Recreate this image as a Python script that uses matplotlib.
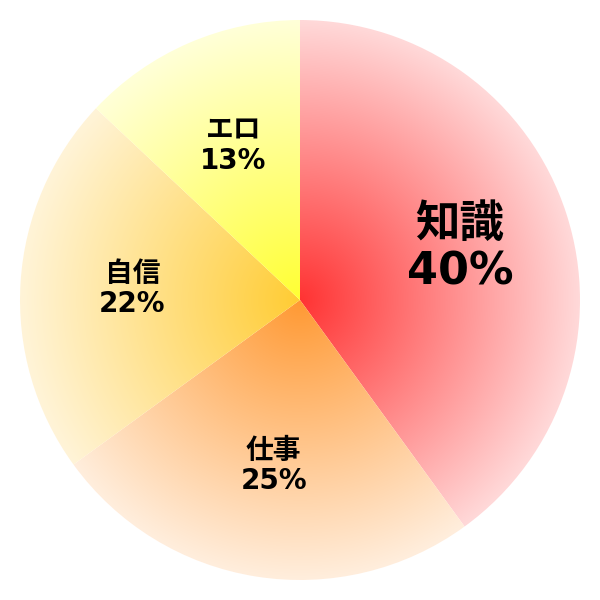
import numpy as np
import matplotlib
matplotlib.use('Agg')
import matplotlib.pyplot as plt
from matplotlib.patches import Wedge
from matplotlib.colors import to_rgb

labels = ['知識', '仕事', '自信', 'エロ']
values = [40, 25, 22, 13]
inner_colors = ['#ff3333', '#ff9933', '#ffcc33', '#ffff33']
outer_colors = ['#ffd9d9', '#ffeedd', '#fff4d8', '#ffffd8']
font_sizes = [32, 20, 20, 20]

plt.rcParams['font.family'] = ['DejaVu Sans', 'Noto Sans CJK JP']

fig = plt.figure(figsize=(6, 6), dpi=100)
ax = fig.add_axes([0, 0, 1, 1])
ax.set_xlim(0, 600)
ax.set_ylim(0, 600)
ax.set_aspect('equal')
ax.axis('off')

cx, cy, radius = 300, 300, 280

# radial distance grid for the gradients
xs = np.linspace(0, 600, 600)
gx, gy = np.meshgrid(xs, xs)
t = np.clip(np.hypot(gx - cx, gy - cy) / radius, 0, 1)[..., None]

total = sum(values)
start = 90
for label, val, c_in, c_out, fs in zip(labels, values, inner_colors, outer_colors, font_sizes):
    sweep = val / total * 360
    theta1, theta2 = start - sweep, start
    start = theta1

    img = np.array(to_rgb(c_in)) * (1 - t) + np.array(to_rgb(c_out)) * t
    wedge = Wedge((cx, cy), radius, theta1, theta2, facecolor='none', edgecolor='none')
    ax.add_patch(wedge)
    im = ax.imshow(img, extent=(0, 600, 0, 600), origin='lower', interpolation='bilinear')
    im.set_clip_path(wedge)

    mid = np.radians((theta1 + theta2) / 2)
    lx = cx + 0.6 * radius * np.cos(mid)
    ly = cy + 0.6 * radius * np.sin(mid)
    off = fs * 0.75
    ax.text(lx, ly + off, label, ha='center', va='center', fontsize=fs, fontweight='bold')
    ax.text(lx, ly - off, f'{val}%', ha='center', va='center', fontsize=fs, fontweight='bold')

fig.savefig('out.png', dpi=100)
